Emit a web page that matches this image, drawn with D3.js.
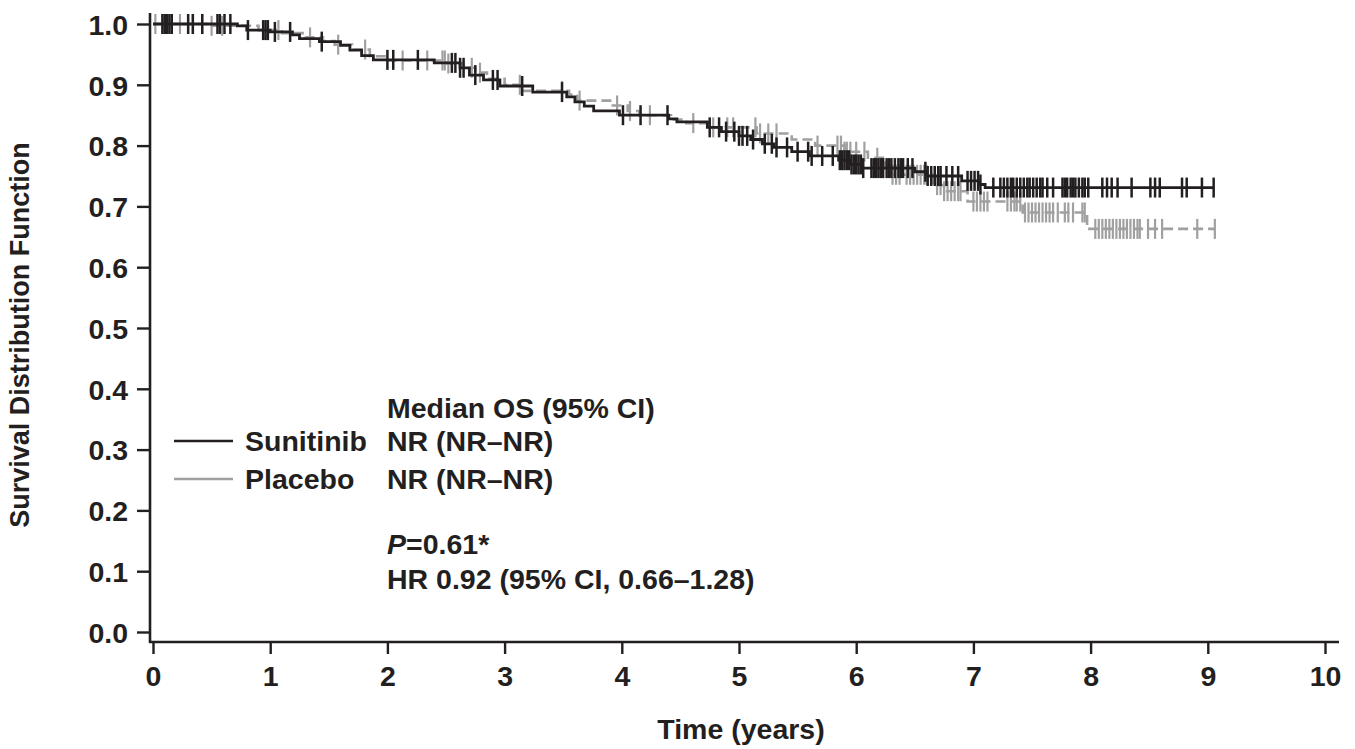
<!DOCTYPE html>
<html>
<head>
<meta charset="utf-8">
<script src="https://cdn.jsdelivr.net/npm/d3@7"></script>
<style>
  html, body { margin: 0; padding: 0; background: #ffffff; }
  svg { display: block; }
  text { font-family: "Liberation Sans", Arial, Helvetica, sans-serif; font-weight: bold; fill: #231f20; }
</style>
</head>
<body>
<svg id="chart" width="1355" height="749"></svg>
<script>
// ---- Data ----
const xTicks = [0, 1, 2, 3, 4, 5, 6, 7, 8, 9, 10];
const yTicks = [0.0, 0.1, 0.2, 0.3, 0.4, 0.5, 0.6, 0.7, 0.8, 0.9, 1.0];

// Sunitinib: step times and survival after each step
const sunitinibTimes = [0, 0.72, 0.8, 1.0, 1.19, 1.25, 1.42, 1.6, 1.68, 1.78, 1.88, 2.4, 2.62, 2.7, 2.82, 2.96, 3.24, 3.53, 3.6, 3.68, 3.76, 3.98, 4.4, 4.47, 4.73, 4.85, 5.0, 5.1, 5.2, 5.3, 5.45, 5.6, 5.85, 5.95, 6.05, 6.5, 6.6, 6.9, 7.05, 7.1];
const sunitinibSurv  = [1.0, 0.997, 0.99, 0.987, 0.982, 0.976, 0.971, 0.965, 0.957, 0.948, 0.941, 0.936, 0.928, 0.916, 0.908, 0.898, 0.888, 0.88, 0.872, 0.865, 0.857, 0.85, 0.844, 0.839, 0.83, 0.823, 0.816, 0.81, 0.803, 0.797, 0.79, 0.783, 0.776, 0.769, 0.763, 0.757, 0.75, 0.742, 0.736, 0.731];
const sunitinibEnd = 9.05;
const sunitinibCensor = [0.08, 0.1, 0.12, 0.14, 0.16, 0.3, 0.34, 0.42, 0.55, 0.57, 0.61, 0.66, 0.81, 0.94, 0.96, 0.98, 1.04, 1.17, 1.44, 2.0, 2.05, 2.26, 2.55, 2.58, 2.62, 2.65, 2.75, 2.9, 2.94, 3.15, 3.49, 4.01, 4.16, 4.39, 4.75, 4.83, 4.89, 4.96, 5.0, 5.03, 5.07, 5.12, 5.22, 5.28, 5.32, 5.41, 5.5, 5.59, 5.62, 5.71, 5.8, 5.86, 5.88, 5.9, 5.92, 5.94, 5.96, 5.98, 6.0, 6.02, 6.04, 6.06, 6.13, 6.15, 6.17, 6.19, 6.21, 6.23, 6.26, 6.28, 6.3, 6.33, 6.36, 6.38, 6.4, 6.44, 6.48, 6.59, 6.61, 6.64, 6.67, 6.7, 6.72, 6.77, 6.82, 6.87, 6.95, 6.98, 7.01, 7.04, 7.06, 7.17, 7.23, 7.26, 7.29, 7.32, 7.34, 7.37, 7.4, 7.43, 7.46, 7.48, 7.51, 7.54, 7.57, 7.59, 7.63, 7.68, 7.76, 7.78, 7.8, 7.83, 7.85, 7.87, 7.9, 7.93, 7.95, 7.98, 8.1, 8.14, 8.18, 8.23, 8.35, 8.51, 8.55, 8.59, 8.78, 8.82, 8.95, 9.05];

// Placebo: step times and survival after each step
const placeboTimes = [0, 0.5, 0.9, 1.1, 1.3, 1.45, 1.55, 1.7, 1.85, 2.0, 2.5, 2.65, 2.75, 2.85, 3.0, 3.15, 3.55, 3.62, 3.9, 4.05, 4.15, 4.42, 4.55, 4.75, 5.15, 5.45, 5.65, 5.9, 6.1, 6.25, 6.3, 6.65, 6.75, 6.95, 7.42, 7.97];
const placeboSurv  = [1.0, 0.997, 0.99, 0.985, 0.978, 0.972, 0.966, 0.958, 0.947, 0.94, 0.935, 0.928, 0.92, 0.91, 0.9, 0.89, 0.884, 0.874, 0.866, 0.857, 0.85, 0.843, 0.837, 0.83, 0.82, 0.81, 0.8, 0.79, 0.78, 0.766, 0.752, 0.735, 0.725, 0.708, 0.69, 0.663];
const placeboEnd = 9.06;
const placeboCensor = [0.02, 0.1, 0.23, 0.34, 0.42, 0.5, 0.59, 0.98, 1.07, 1.34, 1.58, 1.81, 2.13, 2.34, 2.47, 2.49, 2.52, 2.72, 2.79, 3.13, 3.49, 3.64, 3.96, 4.07, 4.24, 4.61, 4.78, 4.9, 4.95, 5.14, 5.18, 5.25, 5.32, 5.67, 5.84, 5.87, 5.9, 5.92, 5.95, 6.0, 6.07, 6.18, 6.31, 6.34, 6.37, 6.43, 6.46, 6.49, 6.52, 6.55, 6.58, 6.6, 6.69, 6.72, 6.75, 6.78, 6.81, 6.84, 6.87, 6.89, 7.0, 7.03, 7.06, 7.09, 7.12, 7.29, 7.32, 7.35, 7.37, 7.4, 7.44, 7.47, 7.5, 7.53, 7.56, 7.59, 7.62, 7.65, 7.68, 7.72, 7.78, 7.81, 7.85, 7.93, 7.95, 8.04, 8.07, 8.1, 8.13, 8.16, 8.19, 8.22, 8.25, 8.28, 8.31, 8.34, 8.37, 8.4, 8.42, 8.49, 8.55, 8.61, 8.91, 9.06];

const seriesNames = ["Sunitinib", "Placebo"];
const medianText = ["NR (NR\u2013NR)", "NR (NR\u2013NR)"];

// ---- Layout ----
const svg = d3.select("#chart");
const x = d3.scaleLinear().domain([0, 10]).range([153, 1325]);
const y = d3.scaleLinear().domain([0, 1]).range([632, 24]);
const ink = "#231f20";
const grey = "#a0a0a0";
const fs = "28.5px";

// axes
const yAxis = d3.axisLeft(y).tickValues(yTicks).tickSize(13).tickPadding(9).tickFormat(d3.format(".1f"));
const gy = svg.append("g").attr("transform", "translate(150,0)").call(yAxis);
gy.select(".domain").remove();
gy.selectAll(".tick line").attr("stroke", ink).attr("stroke-width", 2.4);
gy.selectAll(".tick text").style("font-size", fs).attr("dy", "0.36em");

const xAxis = d3.axisBottom(x).tickValues(xTicks).tickSize(12).tickPadding(12).tickFormat(d3.format("d"));
const gx = svg.append("g").attr("transform", "translate(0,642)").call(xAxis);
gx.select(".domain").remove();
gx.selectAll(".tick line").attr("stroke", ink).attr("stroke-width", 2.4);
gx.selectAll(".tick text").style("font-size", fs).attr("dy", "0.71em");

svg.append("line").attr("x1", 150).attr("x2", 150).attr("y1", 13).attr("y2", 643)
  .attr("stroke", ink).attr("stroke-width", 2.6);
svg.append("line").attr("x1", 149).attr("x2", 1339).attr("y1", 642).attr("y2", 642)
  .attr("stroke", ink).attr("stroke-width", 2.6);

// axis titles
svg.append("text").attr("x", 741).attr("y", 739).attr("text-anchor", "middle")
  .style("font-size", fs).text("Time (years)");
svg.append("text").attr("transform", "translate(29,335) rotate(-90)").attr("text-anchor", "middle")
  .style("font-size", "27px").text("Survival Distribution Function");

// KM curves
function stepPoints(times, surv, end) {
  const pts = times.map((t, i) => [t, surv[i]]);
  pts.push([end, surv[surv.length - 1]]);
  return pts;
}
function survAt(times, surv, t) {
  const i = d3.bisectRight(times, t) - 1;
  return surv[Math.max(0, i)];
}
const line = d3.line().x(d => x(d[0])).y(d => y(d[1])).curve(d3.curveStepAfter);

const series = [
  { times: placeboTimes, surv: placeboSurv, end: placeboEnd, censor: placeboCensor, color: grey, width: 2.6, dash: "10,5", tickW: 2.2 },
  { times: sunitinibTimes, surv: sunitinibSurv, end: sunitinibEnd, censor: sunitinibCensor, color: ink, width: 2.8, dash: null, tickW: 2.5 }
];

series.forEach(s => {
  const g = svg.append("g");
  g.append("path").datum(stepPoints(s.times, s.surv, s.end))
    .attr("d", line).attr("fill", "none").attr("stroke", s.color)
    .attr("stroke-width", s.width).attr("stroke-dasharray", s.dash);
  g.selectAll("line.c").data(s.censor).enter().append("line")
    .attr("x1", d => x(d)).attr("x2", d => x(d))
    .attr("y1", d => y(survAt(s.times, s.surv, d)) - 10)
    .attr("y2", d => y(survAt(s.times, s.surv, d)) + 10)
    .attr("stroke", s.color).attr("stroke-width", s.tickW);
});

// legend / annotation
const lg = svg.append("g");
lg.append("text").attr("x", 387).attr("y", 418).style("font-size", fs).text("Median OS (95% CI)");
const legendColors = [ink, grey];
const legendY = [441, 479];
seriesNames.forEach((name, i) => {
  lg.append("line").attr("x1", 174).attr("x2", 233).attr("y1", legendY[i]).attr("y2", legendY[i])
    .attr("stroke", legendColors[i]).attr("stroke-width", 2.6);
  lg.append("text").attr("x", 245).attr("y", legendY[i] + 10).style("font-size", fs).text(name);
  lg.append("text").attr("x", 387).attr("y", legendY[i] + 10).style("font-size", fs).text(medianText[i]);
});
const pt = lg.append("text").attr("x", 387).attr("y", 554).style("font-size", fs);
pt.append("tspan").style("font-style", "italic").text("P");
pt.append("tspan").text("=0.61*");
lg.append("text").attr("x", 387).attr("y", 589).style("font-size", fs).text("HR 0.92 (95% CI, 0.66\u20131.28)");
</script>
</body>
</html>
